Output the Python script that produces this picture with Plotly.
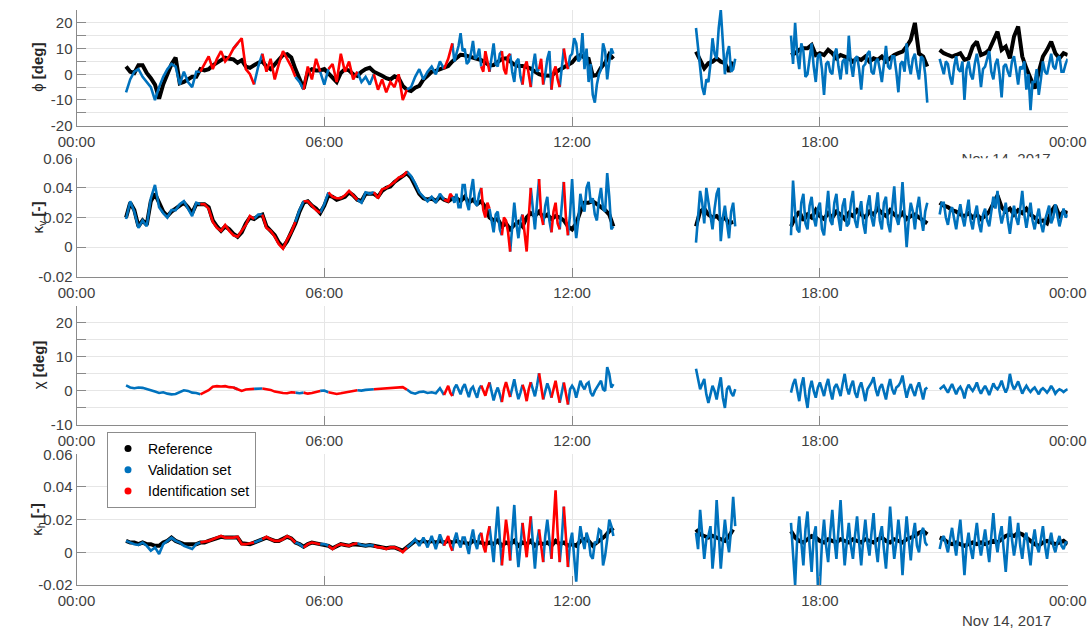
import numpy as np
import pandas as pd
import plotly.graph_objects as go

_ = None
N5 = [None] * 5
N6 = [None] * 6
N19 = [None] * 19
N20 = [None] * 20

DAY = pd.Timestamp("2017-11-14")
# Reference signals: one sample every 0.1 h from 01:00 to 24:00
HOURS_REF = np.round(np.arange(10, 241) * 0.1, 2)
# Measured signals: 0.1 h steps until 09:00, then 0.05 h steps until 24:00
HOURS_MEAS = np.round(np.concatenate([np.arange(10, 90) * 0.1, np.arange(180, 481) * 0.05]), 2)

# Identification-set time windows (hours); everything else is validation data
IDENT_WINDOWS = [(3.0, 3.8), (3.9, 4.3), (4.5, 5.3), (5.5, 5.9), (6.1, 6.8),
                 (7.2, 8.0), (8.9, 9.1), (9.8, 10.0), (10.3, 10.5), (10.8, 11.0),
                 (11.2, 11.3), (11.5, 11.7), (11.8, 11.9)]

# ---------------- phi [deg] ----------------
PHI_REF = [
    _, _, 3.0, 1.0, 0.5, 3.5, 3.5, 0.5, -1.5, -4.0,
    -9.5, -3.9, 0.0, 3.9, 6.5, -3.5, -3.0, -2.0, -1.0, -1.0,
    2.0, 1.5, 2.0, 3.5, 4.5, 5.2, 6.5, 6.0, 5.8, 4.5,
    5.5, 3.0, 2.5, 3.5, 4.5, 5.0, 3.0, 2.0, 4.0, 6.0,
    7.5, 7.8, 6.5, 2.0, -2.0, -5.5, 1.0, 2.0, 1.5, 1.5,
    2.0, 0.5, -1.0, -3.0, 0.5, 2.0, 1.5, 0.0, -0.6, 1.0,
    2.0, 2.5, 1.0, 0.0, -0.6, -1.5, -2.0, -0.8, -1.5, -4.5,
    -6.0, -6.5, -5.2, -4.5, -2.0, -0.6, 1.0, 1.3, 2.0, 2.6,
    3.2, 5.0, 6.3, 7.6, 7.4, 7.0, 6.6, 6.3, 5.5, 4.5,
    3.4, 3.6, 4.8, 6.0, 6.2, 5.0, 3.8, 3.2, 3.2, 2.8,
    2.2, 1.0, 0.0, -0.5, -0.6, -0.6, 0.8, 1.8, 2.6, 4.0,
    4.6, 6.5, 7.5, 6.5, 6.0, -0.6, -0.3, 2.6, 4.5, 7.8,
    6.0, _, _, _, _, _, _, _, _, _,
    _, _, _, _, _, _, _, _, _, _,
    8.8, 5.6, 2.3, 4.3, 4.9, 6.2, 4.9, 4.3, 1.0, 4.9,
    _, _, _, _, _, _, _, _, _, _,
    _, _, _, 7.5, 8.2, 9.5, 10.1, 10.1, 11.4, 7.5,
    8.2, 7.5, 9.5, 8.2, 6.2, 7.5, 6.9, 6.2, 4.9, 6.2,
    5.6, 6.9, 4.9, 6.2, 5.6, 6.9, 5.0, 6.2, 7.5, 8.2,
    8.8, 10.8, 13.4, 20.0, 8.0, 6.9, 3.0, _, _, 9.5,
    8.2, 7.5, 6.9, 7.5, 8.2, 5.6, 6.2, 10.8, 12.7, 7.5,
    8.2, 9.5, 12.7, 16.6, 9.5, 10.8, 6.2, 14.7, 18.6, 6.9,
    2.3, -1.6, -5.5, 1.0, 6.9, 9.5, 12.7, 8.2, 6.2, 8.2,
    7.5,
]
PHI_MEAS = [
    _, _, -7, -2, 1, 2, -1, -3, -5, -10,
    -5, -1, 2, 4, 3, -4, 1, -3, -5, 1,
    1, 4, 7, 2, 6, 9, 5, 7, 10, 12,
    14, 2, 0, -4, 3, 8, 1, 6, -2, 4,
    9, 6, 3, -1, -3, -6, 3, -2, 6, 1,
    -4, 2, 4, -3, 8, 1, 5, -2, 1, -3,
    -1, -4, 0, -6, -2, -7, -3, -5, 0, -10,
    -6, -5, -1, 2, -2, 1, 3, 0, 5, 2,
    # from 09:00 on, 0.05 h steps
    6, 9, 12, 5, 8, 11, 16, 9, 10, 4, 5, 8, 13, 6, 7, 10, 3, 1, 9, 5,
    1, 6, 12, 4, 3, 8, 9, 2, 0, 7, 8, 1, -3, 5, 6, -1, -4, 3, 5, 0,
    -5, 3, 8, 1, 2, 6, -4, 0, 6, 9, -6, 1, 3, -2, -5, 4, 10, 5, 2, 7,
    8, 14, 12, 5, 6, 16, 2, 10, -3, 4, -8, -11, -4, 0, 2, 12, 9, -2, 5, 10,
    8, *N19,
    *N20,
    18, 10, 2, -5, -8, -2, -3, 4, 14, 8, 6, 18, 25, 12, 0, 8, 11, 1, 2, 6,
    *N20,
    *N6, 15, 4, 20, 8, 2, 12, 9, -1, 0, 6, 12, 3, -3, 7,
    8, 2, -8, 4, 5, 1, 0, 8, 10, 3, -2, 5, 6, 0, 15, 4, -1, 6, 7, 2,
    -6, 3, 4, 8, 9, 1, 0, 5, 6, 2, -3, 4, 11, 3, 2, 7, 7, 1, -7, 4,
    5, 1, 12, 4, 0, 6, 8, 2, -2, 7, 6, 0, -11, *N5, 6, 3,
    0, 5, 4, -1, -4, 3, 7, 2, 1, 5, -10, 2, 5, 0, -2, 4, 8, 3, -5, 2,
    3, 6, 9, 1, -2, 4, 6, 0, -9, 3, 4, 1, -1, 5, 7, 2, -4, 3, 2, 5,
    -6, 0, -14, -3, -3, 2, -8, -2, 5, 1, 0, 4, 8, 3, 2, 6, 7, 1, 1, 4,
    6,
]

# ---------------- kappa_v [-] ----------------
KV_REF = [
    _, _, 0.020, 0.030, 0.025, 0.014, 0.018, 0.015, 0.031, 0.036,
    0.030, 0.024, 0.021, 0.024, 0.026, 0.028, 0.030, 0.027, 0.023, 0.029,
    0.029, 0.029, 0.027, 0.018, 0.014, 0.011, 0.014, 0.012, 0.009, 0.007,
    0.010, 0.016, 0.020, 0.019, 0.021, 0.022, 0.014, 0.011, 0.008, 0.003,
    0.000, 0.004, 0.010, 0.016, 0.024, 0.030, 0.031, 0.028, 0.026, 0.023,
    0.028, 0.035, 0.034, 0.032, 0.033, 0.034, 0.037, 0.035, 0.032, 0.031,
    0.036, 0.036, 0.036, 0.034, 0.038, 0.040, 0.041, 0.044, 0.046, 0.048,
    0.050, 0.047, 0.042, 0.036, 0.033, 0.032, 0.033, 0.031, 0.034, 0.032,
    0.031, 0.033, 0.033, 0.031, 0.034, 0.030, 0.032, 0.029, 0.031, 0.027,
    0.020, 0.018, 0.019, 0.014, 0.016, 0.012, 0.015, 0.017, 0.014, 0.020,
    0.023, 0.021, 0.024, 0.020, 0.022, 0.019, 0.021, 0.020, 0.018, 0.014,
    0.012, 0.016, 0.024, 0.030, 0.030, 0.031, 0.029, 0.027, 0.025, 0.022,
    0.014, _, _, _, _, _, _, _, _, _,
    _, _, _, _, _, _, _, _, _, _,
    0.014, 0.024, 0.026, 0.022, 0.020, 0.021, 0.018, 0.020, 0.016, 0.017,
    _, _, _, _, _, _, _, _, _, _,
    _, _, _, 0.014, 0.020, 0.024, 0.018, 0.022, 0.020, 0.025,
    0.021, 0.019, 0.023, 0.020, 0.024, 0.022, 0.019, 0.023, 0.021, 0.025,
    0.022, 0.020, 0.024, 0.022, 0.026, 0.023, 0.021, 0.025, 0.022, 0.020,
    0.023, 0.019, 0.021, 0.022, 0.020, 0.018, 0.016, _, _, 0.030,
    0.028, 0.027, 0.025, 0.024, 0.022, 0.021, 0.023, 0.020, 0.022, 0.019,
    0.021, 0.024, 0.030, 0.035, 0.027, 0.024, 0.026, 0.022, 0.025, 0.023,
    0.026, 0.022, 0.020, 0.017, 0.018, 0.016, 0.024, 0.028, 0.021, 0.024,
    0.023,
]
KV_MEAS = [
    _, _, 0.019, 0.031, 0.024, 0.013, 0.018, 0.014, 0.033, 0.042,
    0.027, 0.023, 0.020, 0.025, 0.025, 0.029, 0.031, 0.026, 0.021, 0.030,
    0.029, 0.029, 0.026, 0.017, 0.013, 0.011, 0.015, 0.011, 0.008, 0.007,
    0.011, 0.015, 0.021, 0.019, 0.022, 0.022, 0.013, 0.011, 0.007, 0.002,
    -0.001, 0.005, 0.010, 0.017, 0.025, 0.031, 0.031, 0.028, 0.025, 0.023,
    0.029, 0.037, 0.034, 0.033, 0.033, 0.035, 0.038, 0.035, 0.032, 0.030,
    0.037, 0.036, 0.037, 0.033, 0.039, 0.040, 0.042, 0.044, 0.047, 0.048,
    0.051, 0.048, 0.043, 0.037, 0.034, 0.031, 0.034, 0.030, 0.036, 0.032,
    # from 09:00 on, 0.05 h steps
    0.031, 0.036, 0.034, 0.030, 0.036, 0.027, 0.027, 0.042, 0.042, 0.030,
    0.025, 0.038, 0.046, 0.030, 0.028, 0.036, 0.040, 0.025, 0.020, 0.030,
    0.026, 0.017, 0.010, 0.022, 0.024, 0.012, 0.008, 0.020, 0.018, 0.010,
    -0.003, 0.014, 0.030, 0.016, 0.006, 0.018, 0.022, 0.010, -0.003, 0.020,
    0.040, 0.025, 0.012, 0.030, 0.046, 0.022, 0.015, 0.028, 0.034, 0.018,
    0.010, 0.024, 0.030, 0.016, 0.012, 0.026, 0.044, 0.020, 0.008, 0.022,
    0.046, 0.020, 0.006, 0.018, 0.036, 0.028, 0.024, 0.040, 0.044, 0.030,
    0.033, 0.022, 0.018, 0.032, 0.040, 0.026, 0.024, 0.050, 0.034, 0.012,
    0.014, *N19,
    *N20,
    0.003, 0.020, 0.038, 0.030, 0.016, 0.040, 0.030, 0.022, 0.012, 0.026,
    0.036, 0.040, 0.004, 0.020, 0.028, 0.016, 0.006, 0.024, 0.030, 0.014,
    *N20,
    *N6, 0.008, 0.045, 0.024, 0.012, 0.010, 0.030, 0.036, 0.016, 0.012, 0.028,
    0.034, 0.020, 0.014, 0.026,
    0.030, 0.012, 0.008, 0.026, 0.038, 0.018, 0.015, 0.030, 0.036, 0.020,
    0.011, 0.028, 0.033, 0.014, 0.016, 0.030, 0.038, 0.018, 0.013, 0.024,
    0.031, 0.016, 0.009, 0.028, 0.035, 0.020, 0.014, 0.026, 0.037, 0.018,
    0.012, 0.030, 0.034, 0.016, 0.010, 0.027, 0.041, 0.020, 0.015, 0.024,
    0.044, 0.022, 0.000, 0.018, 0.030, 0.024, 0.012, 0.026, 0.034, 0.020,
    0.011, 0.024, 0.030, *N5, 0.022, 0.030,
    0.030, 0.020, 0.015, 0.024, 0.027, 0.018, 0.012, 0.022, 0.029, 0.020,
    0.014, 0.024, 0.032, 0.018, 0.012, 0.022, 0.028, 0.016, 0.010, 0.022,
    0.026, 0.018, 0.014, 0.024, 0.034, 0.026, 0.038, 0.024, 0.016, 0.022,
    0.030, 0.018, 0.009, 0.020, 0.028, 0.020, 0.015, 0.026, 0.038, 0.022,
    0.013, 0.022, 0.030, 0.018, 0.012, 0.020, 0.026, 0.016, 0.010, 0.018,
    0.024, 0.028, 0.016, 0.020, 0.029, 0.022, 0.014, 0.020, 0.026, 0.020,
    0.022,
]

# ---------------- chi [deg] ----------------
CHI_MEAS = [
    _, _, 1.6, 1.0, 0.8, 1.0, 0.9, 0.6, 0.3, -0.2,
    -0.6, -0.4, -0.8, -1.0, -0.9, -0.3, 0.2, 0.0, -0.5, -0.6,
    -1.0, -0.5, 0.2, 1.2, 1.4, 1.3, 1.4, 1.1, 1.0, 0.5,
    0.0, 0.4, 0.5, 0.6, 0.6, 0.7, 0.5, 0.3, -0.2, -0.5,
    -0.6, -0.7, -0.4, -0.5, -0.7, -0.5, -0.8, -0.6, -0.3, 0.0,
    0.1, -0.4, -0.6, -0.9, -0.7, -0.4, -0.2, 0.0, 0.2, 0.1,
    0.3, 0.4, 0.5, 0.6, 0.8, 0.7, 0.9, 1.0, 1.2, 1.1,
    0.4, -0.5, -0.8, -0.3, -0.2, -0.6, -0.4, -0.7, 0.8, -1.2,
    # from 09:00 on, 0.05 h steps
    1.5, -0.5, -1.5, 0.8, 1.8, 0.2, -1.0, 1.0, 2.0, 0.0, -1.8, 0.5, 1.2, -0.5, -2.0, 0.6, 1.6, 0.0, -1.4, 0.8,
    2.5, 0.0, -2.8, -0.5, 1.0, -1.0, -3.3, 0.5, 2.6, 0.4, -1.8, 1.0, 3.4, 0.2, -2.4, -0.5, 1.8, 0.0, -3.0, 0.5,
    2.6, 0.3, -1.6, 1.5, 5.2, 0.5, -2.5, 0.0, 2.2, 0.5, -2.0, 0.8, 3.0, -0.5, -3.5, 0.0, 2.5, -1.0, -4.0, 0.5,
    1.5, 0.5, -2.0, 1.0, 3.0, 1.5, 0.5, 2.0, 2.5, -0.5, -1.5, 0.0, 1.0, 2.0, 3.0, 0.5, 0.0, 7.0, 5.0, 1.0,
    2.0, *N19,
    *N20,
    6.5, 3.0, 0.5, 2.0, 3.5, -1.0, -3.5, -1.0, 1.5, 0.0, -2.5, 1.0, 4.0, -2.0, -5.0, 0.5, 1.5, -0.5, -1.5, 0.5,
    *N20,
    *N6, -0.5, 2.0, 3.5, 0.0, -3.0, 1.5, 4.0, -1.5, -5.0, 0.5, 3.0, 0.0, -2.0, 1.0,
    2.5, 0.5, -1.5, 1.5, 3.5, 0.0, -2.5, 1.0, 2.0, 0.5, -1.5, 2.0, 5.0, 1.0, -1.0, 1.5, 3.0, -0.5, -2.0, 1.0,
    2.5, 0.0, -3.0, 0.5, 1.5, 2.5, 4.0, 0.5, -1.5, 1.0, 2.0, -0.5, -2.5, 1.0, 3.5, 0.5, -1.0, 1.0, 1.5, 2.5,
    4.5, 1.0, -2.0, 0.5, 2.0, 0.0, -1.5, 1.0, 2.5, 0.0, -2.5, 0.5, 1.0, *N5, 0.5, 1.0,
    1.5, 0.5, -0.5, 0.8, 2.0, 0.5, -1.0, 0.5, 1.2, 0.0, -2.2, 0.5, 1.8, 0.8, 0.0, 1.0, 2.5, 0.5, -0.8, 0.5,
    1.5, 0.3, -1.2, 0.5, 2.2, 1.0, 0.5, 1.5, 3.0, 1.0, -0.5, 1.0, 5.0, 2.0, 0.5, 1.5, 2.8, 1.0, -0.8, 0.5,
    1.5, 0.5, -0.3, 0.5, 1.0, 0.0, -1.0, 0.3, 0.8, 0.2, -0.5, 0.3, 1.5, 0.5, -0.8, 0.0, 0.5, 0.2, -0.3, 0.2,
    0.5,
]

# ---------------- kappa_h [-] ----------------
KH_REF = [
    _, _, 0.007, 0.006, 0.006, 0.005, 0.006, 0.005, 0.005, 0.004,
    0.004, 0.006, 0.007, 0.009, 0.007, 0.006, 0.005, 0.005, 0.005, 0.005,
    0.006, 0.006, 0.007, 0.008, 0.009, 0.0095, 0.009, 0.009, 0.009, 0.009,
    0.0055, 0.005, 0.005, 0.006, 0.007, 0.008, 0.009, 0.008, 0.007, 0.007,
    0.008, 0.0095, 0.0085, 0.006, 0.005, 0.0035, 0.005, 0.006, 0.0055, 0.005,
    0.005, 0.004, 0.0025, 0.004, 0.005, 0.0045, 0.004, 0.005, 0.005, 0.0045,
    0.004, 0.0045, 0.004, 0.0035, 0.003, 0.0025, 0.003, 0.003, 0.002, 0.001,
    0.003, 0.005, 0.007, 0.006, 0.007, 0.006, 0.007, 0.006, 0.007, 0.006,
    0.007, 0.006, 0.007, 0.006, 0.006, 0.005, 0.007, 0.006, 0.006, 0.005,
    0.006, 0.005, 0.007, 0.004, 0.006, 0.005, 0.007, 0.004, 0.006, 0.005,
    0.007, 0.004, 0.006, 0.005, 0.006, 0.004, 0.007, 0.005, 0.006, 0.004,
    0.005, 0.004, 0.007, 0.008, 0.007, 0.004, 0.006, 0.008, 0.010, 0.013,
    0.015, _, _, _, _, _, _, _, _, _,
    _, _, _, _, _, _, _, _, _, _,
    0.014, 0.011, 0.010, 0.009, 0.010, 0.009, 0.008, 0.007, 0.010, 0.014,
    _, _, _, _, _, _, _, _, _, _,
    _, _, _, 0.013, 0.009, 0.007, 0.006, 0.008, 0.010, 0.009,
    0.007, 0.006, 0.008, 0.007, 0.006, 0.008, 0.007, 0.006, 0.008, 0.007,
    0.006, 0.008, 0.007, 0.006, 0.008, 0.009, 0.007, 0.006, 0.008, 0.007,
    0.006, 0.008, 0.009, 0.010, 0.012, 0.013, 0.011, _, _, 0.009,
    0.008, 0.006, 0.005, 0.006, 0.005, 0.004, 0.005, 0.006, 0.005, 0.006,
    0.005, 0.006, 0.007, 0.006, 0.008, 0.010, 0.011, 0.010, 0.012, 0.011,
    0.009, 0.007, 0.005, 0.004, 0.006, 0.007, 0.006, 0.005, 0.006, 0.007,
    0.005,
]
KH_MEAS = [
    _, _, 0.007, 0.006, 0.005, 0.0045, 0.006, 0.004, 0.001, 0.003,
    -0.001, 0.005, 0.007, 0.009, 0.007, 0.006, 0.004, 0.003, 0.002, 0.005,
    0.006, 0.0065, 0.007, 0.008, 0.009, 0.010, 0.009, 0.009, 0.009, 0.0095,
    0.005, 0.005, 0.0055, 0.006, 0.007, 0.008, 0.0095, 0.008, 0.007, 0.007,
    0.008, 0.010, 0.0085, 0.006, 0.005, 0.003, 0.005, 0.006, 0.0055, 0.005,
    0.005, 0.004, 0.002, 0.004, 0.005, 0.0045, 0.004, 0.005, 0.0055, 0.0045,
    0.004, 0.0045, 0.004, 0.003, 0.003, 0.002, 0.003, 0.003, 0.002, 0.000,
    0.003, 0.005, 0.008, 0.004, 0.009, 0.003, 0.010, 0.002, 0.011, 0.004,
    # from 09:00 on, 0.05 h steps
    0.010, 0.004, 0.001, 0.008, 0.012, 0.006, 0.003, 0.009, 0.009, 0.004,
    -0.001, 0.008, 0.014, 0.006, 0.002, 0.010, 0.012, 0.004, 0.000, 0.010,
    0.016, 0.004, -0.006, 0.012, 0.028, 0.008, -0.008, 0.006, 0.020, 0.010,
    -0.005, 0.012, 0.029, 0.006, -0.009, 0.004, 0.018, 0.008, -0.003, 0.010,
    0.022, 0.004, -0.010, 0.006, 0.014, 0.002, -0.006, 0.010, 0.020, 0.006,
    -0.004, 0.016, 0.038, 0.012, -0.006, 0.008, 0.028, 0.010, -0.009, 0.006,
    0.012, -0.005, -0.018, 0.004, 0.016, 0.008, 0.002, 0.012, 0.008, -0.002,
    -0.004, 0.006, 0.006, 0.014, 0.013, -0.008, -0.002, 0.008, 0.020, 0.016,
    0.010, *N19,
    *N20,
    0.012, 0.002, 0.026, 0.010, -0.004, 0.008, 0.010, 0.016, -0.010, 0.004,
    0.032, 0.012, -0.010, 0.006, 0.020, 0.008, 0.000, 0.014, 0.034, 0.016,
    *N20,
    *N6, 0.018, -0.004, -0.020, 0.008, 0.022, 0.006, -0.008, 0.014, 0.025, 0.004,
    -0.012, 0.010, 0.016, -0.020,
    -0.020, 0.006, 0.020, 0.004, -0.006, 0.012, 0.026, 0.008, -0.004, 0.014,
    0.032, 0.010, -0.008, 0.006, 0.018, 0.004, -0.004, 0.010, 0.022, 0.006,
    -0.008, 0.008, 0.020, 0.006, -0.002, 0.012, 0.024, 0.004, -0.006, 0.010,
    0.016, 0.002, -0.010, 0.008, 0.028, 0.010, -0.004, 0.006, 0.020, 0.008,
    -0.014, 0.006, 0.022, 0.008, -0.005, 0.010, 0.018, 0.004, 0.000, 0.012,
    0.015, 0.006, 0.004, *N5, 0.002, 0.008,
    0.010, 0.004, 0.000, 0.008, 0.015, 0.006, -0.002, 0.010, 0.020, 0.004,
    -0.014, 0.004, 0.012, 0.002, -0.004, 0.008, 0.018, 0.006, -0.002, 0.006,
    0.014, 0.004, -0.006, 0.010, 0.024, 0.008, 0.000, 0.010, 0.016, 0.002,
    -0.012, 0.006, 0.022, 0.008, -0.002, 0.006, 0.018, 0.004, -0.004, 0.008,
    0.012, 0.002, -0.008, 0.006, 0.014, 0.004, 0.000, 0.008, 0.016, 0.004,
    -0.004, 0.006, 0.012, 0.004, 0.000, 0.006, 0.010, 0.004, 0.002, 0.006,
    0.006,
]

for name, arr, grid in [("PHI_REF", PHI_REF, HOURS_REF), ("PHI_MEAS", PHI_MEAS, HOURS_MEAS),
                        ("KV_REF", KV_REF, HOURS_REF), ("KV_MEAS", KV_MEAS, HOURS_MEAS),
                        ("CHI_MEAS", CHI_MEAS, HOURS_MEAS), ("KH_REF", KH_REF, HOURS_REF),
                        ("KH_MEAS", KH_MEAS, HOURS_MEAS)]:
    assert len(arr) == grid.size, (name, len(arr), grid.size)


def stamp(hours):
    return (DAY + pd.to_timedelta(hours, unit="h")).strftime("%Y-%m-%d %H:%M:%S")


TIMES_REF = stamp(HOURS_REF)
TIMES_MEAS = stamp(HOURS_MEAS)

BLACK, BLUE, RED = "#000000", "#0072BD", "#FF0000"
AXIS_GREY = "#8a8a8a"
GRID = "#e6e6e6"
TEXT = "#404040"
FONT = "Liberation Sans, Arial, sans-serif"

W, H = 1091, 631
X_LEFT, X_RIGHT = 76.5, 1067.7


def split_sets(values):
    v = np.array(values, dtype=float)
    ident = np.zeros(v.size, bool)
    inner = np.zeros(v.size, bool)
    for a, b in IDENT_WINDOWS:
        ident |= (HOURS_MEAS >= a - 1e-6) & (HOURS_MEAS <= b + 1e-6)
        inner |= (HOURS_MEAS > a + 1e-6) & (HOURS_MEAS < b - 1e-6)
    return np.where(inner, np.nan, v), np.where(ident, v, np.nan)


PANELS = [
    dict(ref=PHI_REF, meas=PHI_MEAS, label="ϕ <b>[deg]</b>", rng=[-20, 25],
         major=[-20, -10, 0, 10, 20], minor=[-15, -5, 5, 15, 25],
         top=10.0, bottom=125.7),
    dict(ref=KV_REF, meas=KV_MEAS, label="κ<sub>v</sub> <b>[-]</b>", rng=[-0.02, 0.06],
         major=[-0.02, 0, 0.02, 0.04, 0.06], minor=None,
         top=158.3, bottom=276.7),
    dict(ref=None, meas=CHI_MEAS, label="χ <b>[deg]</b>", rng=[-10, 25],
         major=[-10, 0, 10, 20], minor=[-5, 5, 15, 25],
         top=305.7, bottom=425.0),
    dict(ref=KH_REF, meas=KH_MEAS, label="κ<sub>h</sub> <b>[-]</b>", rng=[-0.02, 0.06],
         major=[-0.02, 0, 0.02, 0.04, 0.06], minor=None,
         top=454.3, bottom=585.0),
]


def tick_text(v):
    return f"{v:g}"


fig = go.Figure()
layout = dict(
    width=W, height=H,
    margin=dict(l=0, r=0, t=0, b=0, autoexpand=False),
    paper_bgcolor="white", plot_bgcolor="white",
    font=dict(family=FONT, size=15, color=TEXT),
    showlegend=True,
    legend=dict(x=107 / W, y=1 - 432 / H, xanchor="left", yanchor="top",
                bgcolor="white", bordercolor="#8c8c8c", borderwidth=1,
                font=dict(family=FONT, size=14, color="#000000"),
                tracegroupgap=0),
    annotations=[],
)

x_domain = [X_LEFT / W, X_RIGHT / W]
x_ticks = list(stamp(np.array([0, 6, 12, 18, 24])))
x_range = [x_ticks[0], x_ticks[-1]]

for k, p in enumerate(PANELS, start=1):
    xa, ya = ("x" if k == 1 else f"x{k}"), ("y" if k == 1 else f"y{k}")
    if p["ref"] is not None:
        fig.add_trace(go.Scatter(x=TIMES_REF, y=np.array(p["ref"], dtype=float), mode="lines",
                                 line=dict(color=BLACK, width=4), xaxis=xa, yaxis=ya,
                                 showlegend=False, hoverinfo="skip"))
    val, ident = split_sets(p["meas"])
    fig.add_trace(go.Scatter(x=TIMES_MEAS, y=val, mode="lines", line=dict(color=BLUE, width=2.6),
                             xaxis=xa, yaxis=ya, showlegend=False, hoverinfo="skip"))
    fig.add_trace(go.Scatter(x=TIMES_MEAS, y=ident, mode="lines", line=dict(color=RED, width=2.6),
                             xaxis=xa, yaxis=ya, showlegend=False, hoverinfo="skip"))

    y_domain = [1 - p["bottom"] / H, 1 - p["top"] / H]
    xkey = "xaxis" if k == 1 else f"xaxis{k}"
    ykey = "yaxis" if k == 1 else f"yaxis{k}"
    layout[xkey] = dict(
        domain=x_domain, anchor=ya, type="date", range=x_range, automargin=False,
        tickmode="array", tickvals=x_ticks, tickformat="%H:%M",
        ticks="inside", ticklen=9, tickcolor=AXIS_GREY, tickwidth=1, ticklabelstandoff=2,
        showline=True, linecolor=AXIS_GREY, linewidth=1, mirror=False,
        showgrid=True, gridcolor=GRID, gridwidth=1, zeroline=False,
        tickfont=dict(family=FONT, size=15, color=TEXT), fixedrange=True,
    )
    yax = dict(
        domain=y_domain, anchor=xa, range=p["rng"], automargin=False,
        tickmode="array", tickvals=p["major"], ticktext=[tick_text(v) for v in p["major"]],
        ticks="inside", ticklen=9, tickcolor=AXIS_GREY, tickwidth=1,
        showline=True, linecolor=AXIS_GREY, linewidth=1, mirror=False,
        showgrid=True, gridcolor=GRID, gridwidth=1, zeroline=False,
        tickfont=dict(family=FONT, size=15, color=TEXT), fixedrange=True,
    )
    if p["minor"] is not None:
        yax["minor"] = dict(tickmode="array", tickvals=p["minor"], ticks="inside",
                            ticklen=9, tickcolor=AXIS_GREY, showgrid=True,
                            gridcolor=GRID, gridwidth=1)
    layout[ykey] = yax

    layout["annotations"].append(dict(
        text=p["label"], textangle=-90, x=38 / W, y=1 - (p["top"] + p["bottom"]) / 2 / H,
        xref="paper", yref="paper", xanchor="center", yanchor="middle", showarrow=False,
        font=dict(family=FONT, size=15, color="#262626")))

# Date stamp under the bottom axis
layout["annotations"].append(dict(
    text="Nov 14, 2017", x=1006 / W, y=1 - 620 / H, xref="paper", yref="paper",
    xanchor="center", yanchor="middle", showarrow=False,
    font=dict(family=FONT, size=15, color=TEXT)))

# Date stamp of the top axis, mostly hidden behind the second panel
fig.add_trace(go.Scatter(x=[0.9378], y=[-0.131], mode="text", text=["Nov 14, 2017"],
                         textfont=dict(family=FONT, size=15, color=TEXT),
                         textposition="middle center", cliponaxis=True,
                         xaxis="x5", yaxis="y5", showlegend=False, hoverinfo="skip"))
layout["xaxis5"] = dict(domain=x_domain, anchor="y5", range=[0, 1], visible=False,
                        fixedrange=True, automargin=False)
layout["yaxis5"] = dict(domain=[1 - 158.3 / H, 1 - 140 / H], anchor="x5", range=[0, 1],
                        visible=False, fixedrange=True, automargin=False)

# Legend entries
for name, color in [("Reference", BLACK), ("Validation set", BLUE), ("Identification set", RED)]:
    fig.add_trace(go.Scatter(x=[None], y=[None], mode="markers", name=name,
                             marker=dict(color=color, size=7), xaxis="x4", yaxis="y4"))

fig.update_layout(**layout)
fig.write_html("out.html")
